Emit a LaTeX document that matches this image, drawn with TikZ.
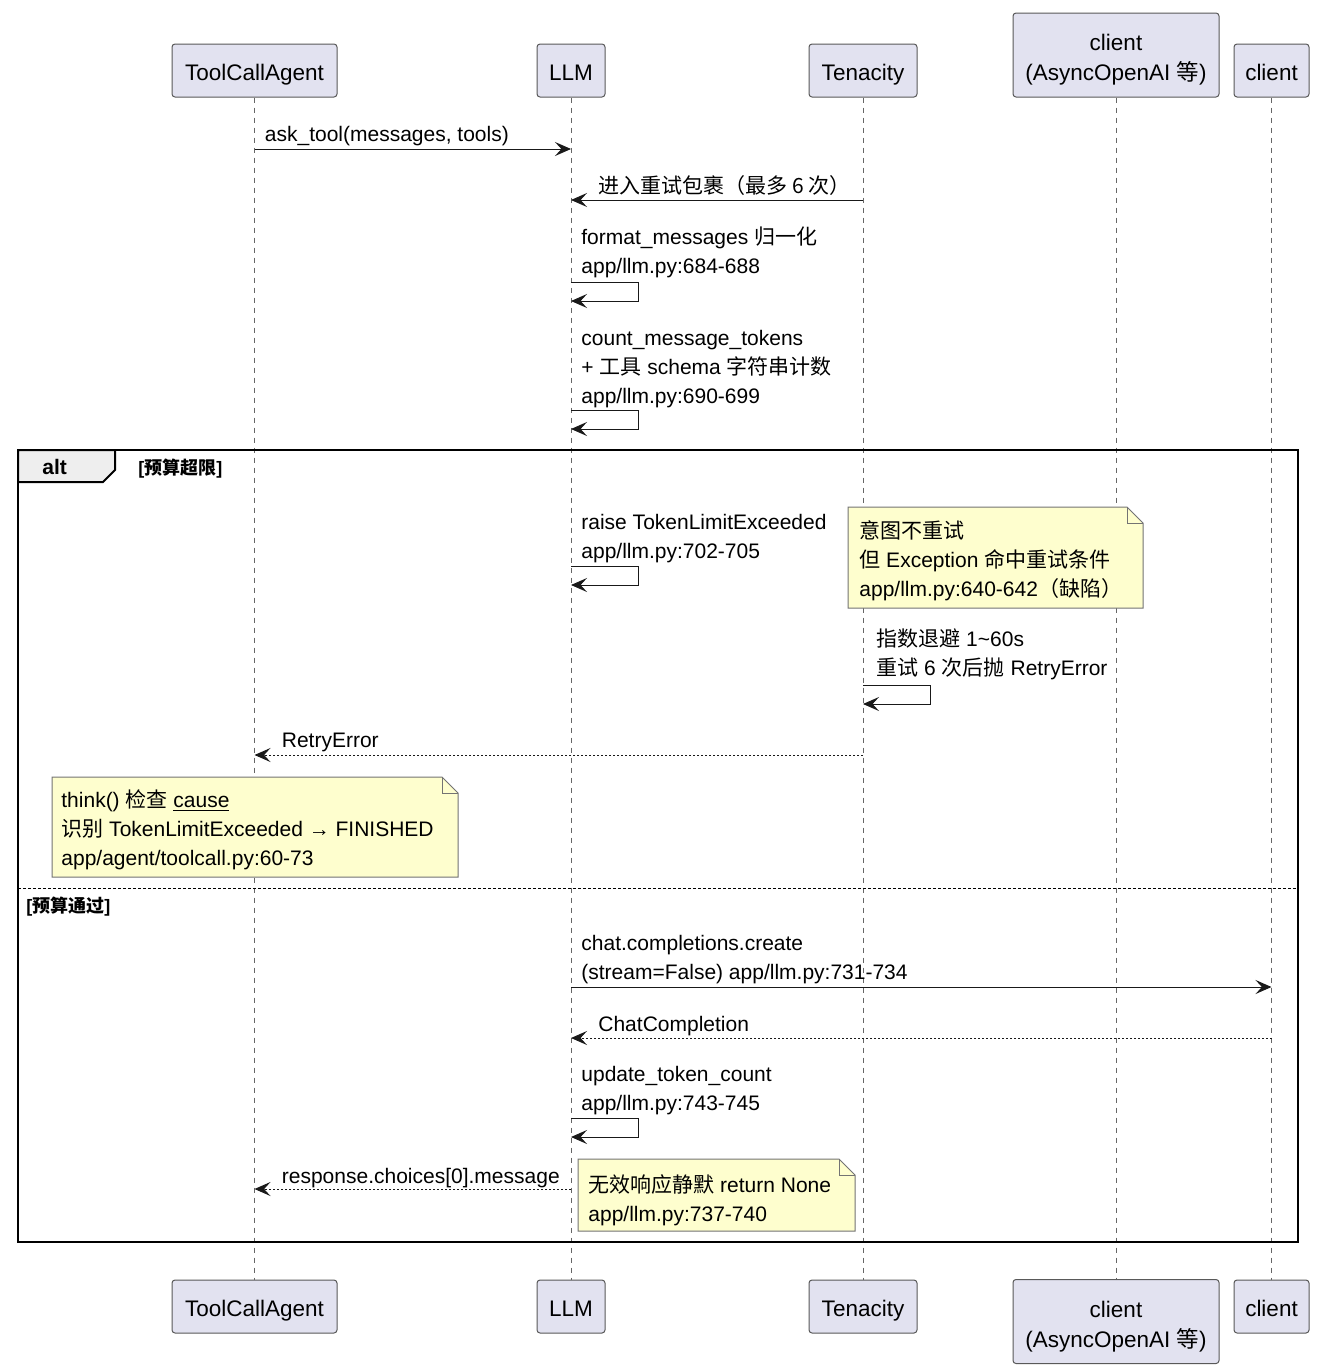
\documentclass[tikz,border=0pt]{standalone}
\usepackage{fontspec}
\setmainfont{Liberation Sans}
\newfontfamily\cjk{Noto Sans CJK SC}
\newcommand{\zh}[1]{{\cjk #1}}
\usetikzlibrary{arrows.meta}
\definecolor{partfill}{HTML}{E2E2F0}
\definecolor{notefill}{HTML}{FEFECE}
\definecolor{tabfill}{HTML}{EEEEEE}

\begin{document}
\begin{tikzpicture}[x=0.5pt,y=-0.5pt,
    part/.style={draw=black!65, fill=partfill, rounded corners=1.5pt, line width=0.5pt,
      minimum height=26.5pt, inner sep=0pt, align=center, text height=10pt, text depth=0pt,
      font=\fontsize{11.25pt}{15pt}\selectfont},
    part2/.style={part, minimum height=42pt, text height=25.8pt},
    life/.style={draw=black!60, line width=0.5pt, dash pattern=on 2.5pt off 2.5pt},
    msg/.style={draw=black!90, line width=0.5pt, -{Stealth[length=8pt,width=7pt,inset=3.2pt]}},
    reply/.style={msg, dash pattern=on 1pt off 1pt},
    txt/.style={anchor=base west, inner sep=0pt, align=left, font=\fontsize{10.5pt}{14.5pt}\selectfont},
    note/.style={draw=black!55, fill=notefill, line width=0.5pt},
    guard/.style={anchor=base west, inner sep=0pt, font=\fontsize{9pt}{11pt}\selectfont\bfseries}]
    \useasboundingbox (0,0) rectangle (1323,1371);
    % Participantes
    \node[part, minimum width=82.5pt] (agent) at (254.5,70.5) {ToolCallAgent};
    \node[part, minimum width=34pt] (llm) at (571,70.5) {LLM};
    \node[part, minimum width=54pt] (ten) at (863,70.5) {Tenacity};
    \node[part2, minimum width=103pt] (aoa) at (1116,55) {client\\(AsyncOpenAI \zh{等})};
    \node[part, minimum width=37.5pt] (cli) at (1271.5,70.5) {client};
    \node[part, minimum width=82.5pt] (agentB) at (254.5,1306.5) {ToolCallAgent};
    \node[part, minimum width=34pt] (llmB) at (571,1306.5) {LLM};
    \node[part, minimum width=54pt] (tenB) at (863,1306.5) {Tenacity};
    \node[part2, minimum width=103pt] (aoaB) at (1116,1321.5) {client\\(AsyncOpenAI \zh{等})};
    \node[part, minimum width=37.5pt] (cliB) at (1271.5,1306.5) {client};
    % Lineas de vida
    \draw[life] (agent) -- (agentB);
    \draw[life] (llm) -- (llmB);
    \draw[life] (ten) -- (tenB);
    \draw[life] (aoa) -- (aoaB);
    \draw[life] (cli) -- (cliB);
    % Mensajes iniciales
    \draw[msg] (agent |- 0,149) -- (llm |- 0,149);
    \node[txt, xshift=5pt] (m1) at (agent |- 0,141) {ask\_tool(messages, tools)};
    \draw[msg] (ten |- 0,200) -- (llm |- 0,200);
    \node[txt, xshift=13.5pt] (m2) at (llm |- 0,193) {\zh{进入重试包裹（最多 6 次）}};
    \node[txt, xshift=5pt] (m3) at (llm |- 0,273) {format\_messages \zh{归一化}\\app/llm.py:684-688};
    \draw[msg] (llm |- 0,282) -- ++(67,0) -- ++(0,19) -- (llm |- 0,301);
    \node[txt, xshift=5pt] (m4) at (llm |- 0,403) {count\_message\_tokens\\+ \zh{工具} schema \zh{字符串计数}\\app/llm.py:690-699};
    \draw[msg] (llm |- 0,410) -- ++(67,0) -- ++(0,19) -- (llm |- 0,429);
    % Marco alt
    \draw[line width=1pt] (18,450) rectangle (1298,1242);
    \draw[line width=1pt, fill=tabfill] (18,450) -- (115,450) -- (115,470) -- (103,482) -- (18,482) -- cycle;
    \node[txt, font=\fontsize{10.5pt}{12pt}\selectfont\bfseries] (alt) at (42,474) {alt};
    \node[guard] (g1) at (138,474) {[\zh{预算超限}]};
    % Rama: presupuesto excedido
    \node[txt, xshift=5pt] (m5) at (llm |- 0,558) {raise TokenLimitExceeded\\app/llm.py:702-705};
    \draw[msg] (llm |- 0,566) -- ++(67,0) -- ++(0,19) -- (llm |- 0,585);
    \path[note] (848,507) -- (1127,507) -- (1143,523) -- (1143,608) -- (848,608) -- cycle;
    \draw[note, fill=none] (1127,507) -- (1127,523) -- (1143,523);
    \node[txt] (n1) at (859,596) {\zh{意图不重试}\\\zh{但} Exception \zh{命中重试条件}\\app/llm.py:640-642\zh{（缺陷）}};
    \node[txt, xshift=6.5pt] (m6) at (ten |- 0,675) {\zh{指数退避} 1\textasciitilde 60s\\\zh{重试} 6 \zh{次后抛} RetryError};
    \draw[msg] (ten |- 0,685) -- ++(67,0) -- ++(0,19) -- (ten |- 0,704);
    \draw[reply] (ten |- 0,755) -- (agent |- 0,755);
    \node[txt, xshift=13.5pt] (m7) at (agent |- 0,747) {RetryError};
    \path[note] (52,777) -- (442,777) -- (458,793) -- (458,877) -- (52,877) -- cycle;
    \draw[note, fill=none] (442,777) -- (442,793) -- (458,793);
    \node[txt] (n2) at (61,865) {think() \zh{检查} \underline{cause}\\\zh{识别} TokenLimitExceeded → FINISHED\\app/agent/toolcall.py:60-73};
    % Rama: presupuesto aprobado
    \draw[line width=0.5pt, dash pattern=on 1.5pt off 1pt] (18,888) -- (1298,888);
    \node[guard] (g2) at (26,912) {[\zh{预算通过}]};
    \node[txt, xshift=5pt] (m8) at (llm |- 0,979) {chat.completions.create\\(stream=False) app/llm.py:731-734};
    \draw[msg] (llm |- 0,987) -- (cli |- 0,987);
    \draw[reply] (cli |- 0,1038) -- (llm |- 0,1038);
    \node[txt, xshift=13.5pt] (m9) at (llm |- 0,1031) {ChatCompletion};
    \node[txt, xshift=5pt] (m10) at (llm |- 0,1110) {update\_token\_count\\app/llm.py:743-745};
    \draw[msg] (llm |- 0,1118) -- ++(67,0) -- ++(0,19) -- (llm |- 0,1137);
    \draw[reply] (llm |- 0,1189) -- (agent |- 0,1189);
    \node[txt, xshift=13.5pt] (m11) at (agent |- 0,1183) {response.choices[0].message};
    \path[note] (578,1159) -- (839,1159) -- (855,1175) -- (855,1231) -- (578,1231) -- cycle;
    \draw[note, fill=none] (839,1159) -- (839,1175) -- (855,1175);
    \node[txt] (n3) at (588,1221) {\zh{无效响应静默} return None\\app/llm.py:737-740};
\end{tikzpicture}
\end{document}
